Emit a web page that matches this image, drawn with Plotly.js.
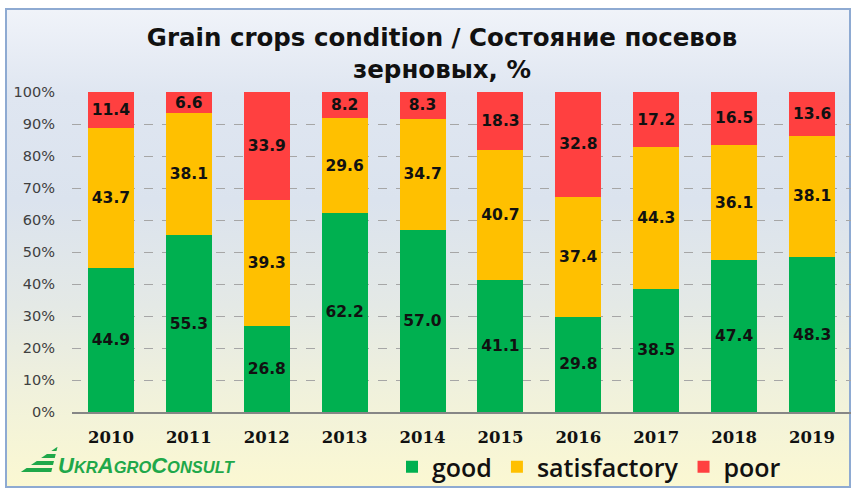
<!DOCTYPE html>
<html>
<head>
<meta charset="utf-8">
<script src="https://cdn.plot.ly/plotly-3.0.1.min.js"></script>
<style>
  html, body { margin: 0; padding: 0; background: #ffffff; }
  #frame {
    position: absolute; left: 5px; top: 8px; width: 842px; height: 476px;
    border: 2px solid #8eaad2;
    background: linear-gradient(to bottom, #f0f3f9 0%, #dfe6f1 18%, #dbe3ee 40%, #e4e9e6 62%, #f0f1dc 80%, #fbf8d2 100%);
  }
  #chart { position: absolute; left: 0; top: 0; width: 854px; height: 490px; }
</style>
</head>
<body>
<div id="frame"></div>
<div id="chart"></div>
<script>
const years = ['2010','2011','2012','2013','2014','2015','2016','2017','2018','2019'];
const good = [44.9, 55.3, 26.8, 62.2, 57.0, 41.1, 29.8, 38.5, 47.4, 48.3];
const satisfactory = [43.7, 38.1, 39.3, 29.6, 34.7, 40.7, 37.4, 44.3, 36.1, 38.1];
const poor = [11.4, 6.6, 33.9, 8.2, 8.3, 18.3, 32.8, 17.2, 16.5, 13.6];
const seriesNames = ['good', 'satisfactory', 'poor'];
const yTicks = [0, 10, 20, 30, 40, 50, 60, 70, 80, 90, 100];
const yTickLabels = ['0%', '10%', '20%', '30%', '40%', '50%', '60%', '70%', '80%', '90%', '100%'];

const colors = ['#00b050', '#ffc000', '#ff4040'];
const labelFont = {family: 'DejaVu Sans', size: 15.5, color: '#111111', weight: 700};

function mk(name, vals, color) {
  return {
    type: 'bar', name: name, x: years, y: vals,
    marker: {color: color, line: {width: 0}},
    texttemplate: '%{y:.1f}', textposition: 'inside', insidetextanchor: 'middle',
    textangle: 0, constraintext: 'none',
    insidetextfont: labelFont, textfont: labelFont,
    hoverinfo: 'x+y+name'
  };
}
const data = [
  mk(seriesNames[0], good, colors[0]),
  mk(seriesNames[1], satisfactory, colors[1]),
  mk(seriesNames[2], poor, colors[2])
];

// helper: pixel -> paper coords (plot area x 72..851, y 92..412)
const L = 72, R = 851, T = 92, B = 412;
const px = v => (v - L) / (R - L);
const py = v => (B - v) / (B - T);
const stripeColor = '#1fa84a';
const shapes = [];
const stripes = [[447, 451], [454, 458], [461, 465], [468, 472]];
stripes.forEach(s => {
  const y0 = s[0], y1 = s[1];
  const xl0 = 60 - (y0 - 445) * 1.45, xl1 = 60 - (y1 - 445) * 1.45;
  const xr0 = 58 - (y0 - 445) * 0.25, xr1 = 58 - (y1 - 445) * 0.25;
  shapes.push({
    type: 'path', xref: 'paper', yref: 'paper',
    path: `M${px(xl0)},${py(y0)} L${px(xr0)},${py(y0)} L${px(xr1)},${py(y1)} L${px(xl1)},${py(y1)} Z`,
    fillcolor: stripeColor, line: {width: 0}
  });
});

const layout = {
  width: 854, height: 490,
  margin: {l: L, r: 854 - R, t: T, b: 490 - B, pad: 0},
  paper_bgcolor: 'rgba(0,0,0,0)', plot_bgcolor: 'rgba(0,0,0,0)',
  barmode: 'stack', bargap: 0.41,
  title: {
    text: 'Grain crops condition / Состояние посевов<br>зерновых, %',
    font: {family: 'DejaVu Sans', size: 24.5, color: '#111111', weight: 700},
    x: 442 / 854, xref: 'container', xanchor: 'center',
    y: 1 - 46 / 490, yref: 'container', yanchor: 'top'
  },
  xaxis: {
    type: 'category', tickvals: years, ticktext: years,
    showgrid: false, showline: true, linecolor: '#868686', linewidth: 1.5,
    ticks: '', ticklabelstandoff: 10,
    tickfont: {family: 'DejaVu Serif', size: 16.5, color: '#111111', weight: 700},
    fixedrange: true
  },
  yaxis: {
    range: [0, 100], tickmode: 'array', tickvals: yTicks, ticktext: yTickLabels,
    showgrid: true, gridcolor: '#a6a6a6', griddash: 'dash', gridwidth: 1,
    zeroline: false, showline: false, ticks: '', ticklabelstandoff: 16,
    tickfont: {family: 'DejaVu Sans', size: 14.5, color: '#404040'},
    fixedrange: true
  },
  showlegend: true,
  legend: {
    orientation: 'h', traceorder: 'normal',
    x: 392 / 854, xref: 'container', xanchor: 'left',
    y: 1 - 467 / 490, yref: 'container', yanchor: 'middle',
    font: {family: 'Open Sans', size: 25, color: '#111111', weight: 600},
    bgcolor: 'rgba(0,0,0,0)', itemclick: false, itemdoubleclick: false
  },
  shapes: shapes,
  annotations: [{
    text: '<i><b>U<span style="font-size:16.5px">KR</span>A<span style="font-size:16.5px">GRO</span>C<span style="font-size:16.5px">ONSULT</span></b></i>',
    xref: 'paper', yref: 'paper', x: px(56), y: py(465),
    xanchor: 'left', yanchor: 'middle', showarrow: false,
    font: {family: 'Liberation Sans Narrow, Liberation Sans', size: 22, color: stripeColor}
  }]
};

Plotly.newPlot('chart', data, layout, {displayModeBar: false, staticPlot: true});
</script>
</body>
</html>
